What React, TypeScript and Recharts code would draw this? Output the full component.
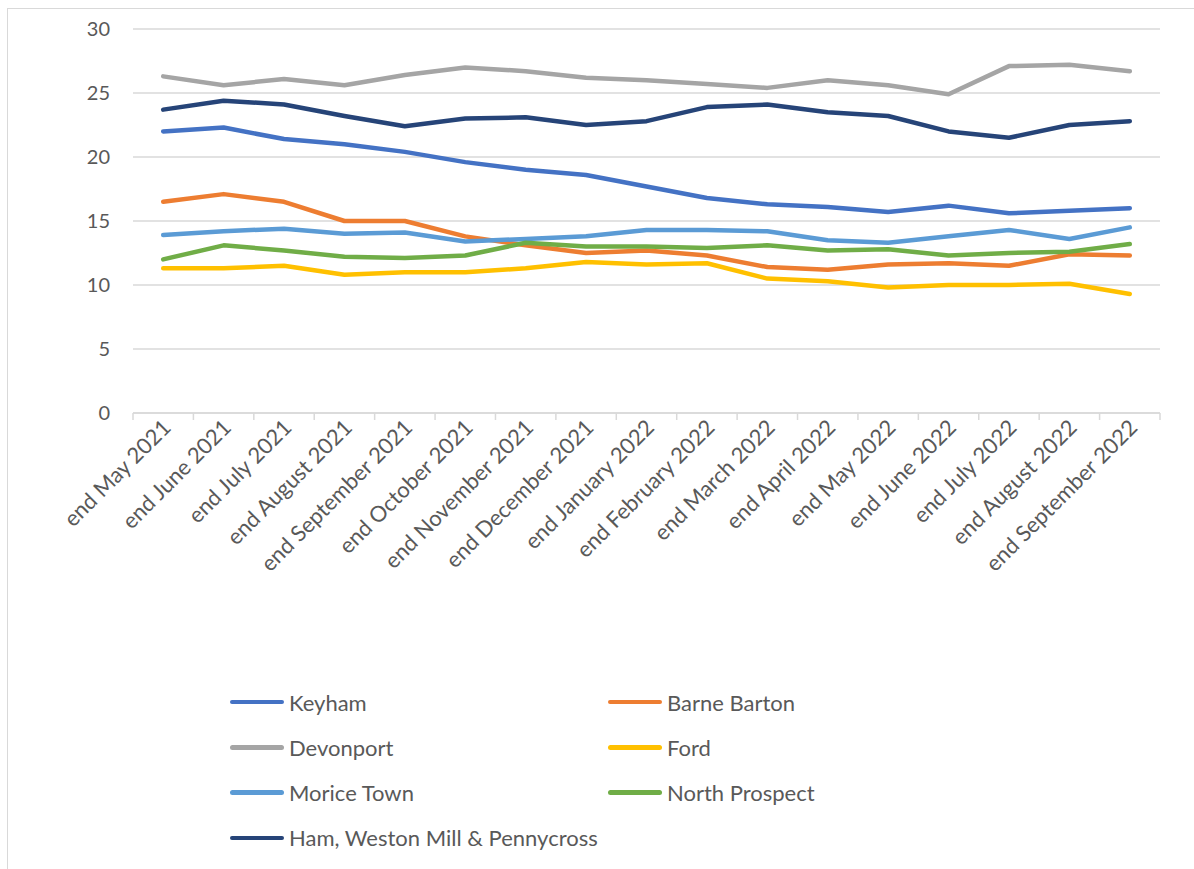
import React from "react";
import { LineChart, Line, XAxis, YAxis, CartesianGrid } from "recharts";

const months = [
  "end May 2021",
  "end June 2021",
  "end July 2021",
  "end August 2021",
  "end September 2021",
  "end October 2021",
  "end November 2021",
  "end December 2021",
  "end January 2022",
  "end February 2022",
  "end March 2022",
  "end April 2022",
  "end May 2022",
  "end June 2022",
  "end July 2022",
  "end August 2022",
  "end September 2022",
];

const keyham = [22.0, 22.3, 21.4, 21.0, 20.4, 19.6, 19.0, 18.6, 17.7, 16.8, 16.3, 16.1, 15.7, 16.2, 15.6, 15.8, 16.0];
const barneBarton = [16.5, 17.1, 16.5, 15.0, 15.0, 13.8, 13.1, 12.5, 12.7, 12.3, 11.4, 11.2, 11.6, 11.7, 11.5, 12.4, 12.3];
const devonport = [26.3, 25.6, 26.1, 25.6, 26.4, 27.0, 26.7, 26.2, 26.0, 25.7, 25.4, 26.0, 25.6, 24.9, 27.1, 27.2, 26.7];
const ford = [11.3, 11.3, 11.5, 10.8, 11.0, 11.0, 11.3, 11.8, 11.6, 11.7, 10.5, 10.3, 9.8, 10.0, 10.0, 10.1, 9.3];
const moriceTown = [13.9, 14.2, 14.4, 14.0, 14.1, 13.4, 13.6, 13.8, 14.3, 14.3, 14.2, 13.5, 13.3, 13.8, 14.3, 13.6, 14.5];
const northProspect = [12.0, 13.1, 12.7, 12.2, 12.1, 12.3, 13.3, 13.0, 13.0, 12.9, 13.1, 12.7, 12.8, 12.3, 12.5, 12.6, 13.2];
const ham = [23.7, 24.4, 24.1, 23.2, 22.4, 23.0, 23.1, 22.5, 22.8, 23.9, 24.1, 23.5, 23.2, 22.0, 21.5, 22.5, 22.8];

const yTicks = [0, 5, 10, 15, 20, 25, 30];

const series = [
  { key: "keyham", name: "Keyham", values: keyham, color: "#4472C4" },
  { key: "barneBarton", name: "Barne Barton", values: barneBarton, color: "#ED7D31" },
  { key: "devonport", name: "Devonport", values: devonport, color: "#A5A5A5" },
  { key: "ford", name: "Ford", values: ford, color: "#FFC000" },
  { key: "moriceTown", name: "Morice Town", values: moriceTown, color: "#5B9BD5" },
  { key: "northProspect", name: "North Prospect", values: northProspect, color: "#70AD47" },
  { key: "ham", name: "Ham, Weston Mill & Pennycross", values: ham, color: "#264478" },
];

const data = months.map((m, i) => {
  const row: any = { month: m };
  series.forEach((s) => (row[s.key] = s.values[i]));
  return row;
});

// plot area in page pixels
const PLOT_LEFT = 133;
const PLOT_RIGHT = 1160;
const PLOT_TOP = 29;
const PLOT_BOTTOM = 413;
const BAND = (PLOT_RIGHT - PLOT_LEFT) / months.length;

const FONT = "Lato, 'Open Sans', sans-serif";
const TEXT = "#595959";
const GRID = "#D9D9D9";

const MonthTick = ({ x, y, payload, index }: any) => {
  const left = x - BAND / 2;
  const ax = x + 9;
  const ay = y + 16;
  return (
    <g>
      <line x1={left} y1={y} x2={left} y2={y + 7} stroke={GRID} strokeWidth={1.5} />
      {index === months.length - 1 && (
        <line x1={x + BAND / 2} y1={y} x2={x + BAND / 2} y2={y + 7} stroke={GRID} strokeWidth={1.5} />
      )}
      <text
        x={ax}
        y={ay}
        textAnchor="end"
        fill={TEXT}
        fontSize={22}
        fontFamily={FONT}
        transform={`rotate(-45, ${ax}, ${ay})`}
      >
        {payload.value}
      </text>
    </g>
  );
};

const legendRows = [
  [series[0], series[1]],
  [series[2], series[3]],
  [series[4], series[5]],
  [series[6]],
];
const legendCols = [230, 608];

export default function App() {
  const yAxisWidth = 60;
  return (
    <div style={{ position: "fixed", left: 0, top: 0, width: 1194, height: 869, background: "#fff", overflow: "hidden" }}>
      <div
        style={{
          position: "absolute",
          left: 7,
          top: 8,
          width: 1187,
          height: 861,
          borderLeft: `1.5px solid ${GRID}`,
          borderTop: `1.5px solid ${GRID}`,
          boxSizing: "border-box",
        }}
      />
      <div style={{ position: "absolute", left: 0, top: 0 }}>
        <LineChart
          width={1194}
          height={869}
          data={data}
          margin={{
            top: PLOT_TOP,
            right: 1194 - PLOT_RIGHT,
            left: PLOT_LEFT - yAxisWidth,
            bottom: 869 - PLOT_BOTTOM - 200,
          }}
        >
          <CartesianGrid vertical={false} stroke={GRID} strokeWidth={1.5} />
          <XAxis
            dataKey="month"
            interval={0}
            height={200}
            padding={{ left: BAND / 2, right: BAND / 2 }}
            tickLine={false}
            tickSize={0}
            tickMargin={0}
            axisLine={{ stroke: GRID, strokeWidth: 1.5 }}
            tick={<MonthTick />}
          />
          <YAxis
            width={yAxisWidth}
            domain={[0, 30]}
            ticks={yTicks}
            axisLine={false}
            tickLine={false}
            tickSize={0}
            tickMargin={23}
            tick={{ fill: TEXT, fontSize: 20, fontFamily: FONT }}
          />
          {series.map((s) => (
            <Line
              key={s.key}
              type="linear"
              dataKey={s.key}
              name={s.name}
              stroke={s.color}
              strokeWidth={4.5}
              strokeLinecap="round"
              strokeLinejoin="round"
              dot={false}
              activeDot={false}
              isAnimationActive={false}
            />
          ))}
        </LineChart>
      </div>
      {legendRows.map((row, r) =>
        row.map((s, c) => (
          <div
            key={s.key}
            style={{
              position: "absolute",
              left: legendCols[c],
              top: 702 + r * 45.3 - 14,
              height: 28,
              display: "flex",
              alignItems: "center",
              fontFamily: FONT,
              fontSize: 22,
              color: TEXT,
              whiteSpace: "nowrap",
            }}
          >
            <span
              style={{
                display: "inline-block",
                width: 54,
                height: 4.5,
                borderRadius: 3,
                background: s.color,
                marginRight: 5,
              }}
            />
            {s.name}
          </div>
        ))
      )}
    </div>
  );
}
